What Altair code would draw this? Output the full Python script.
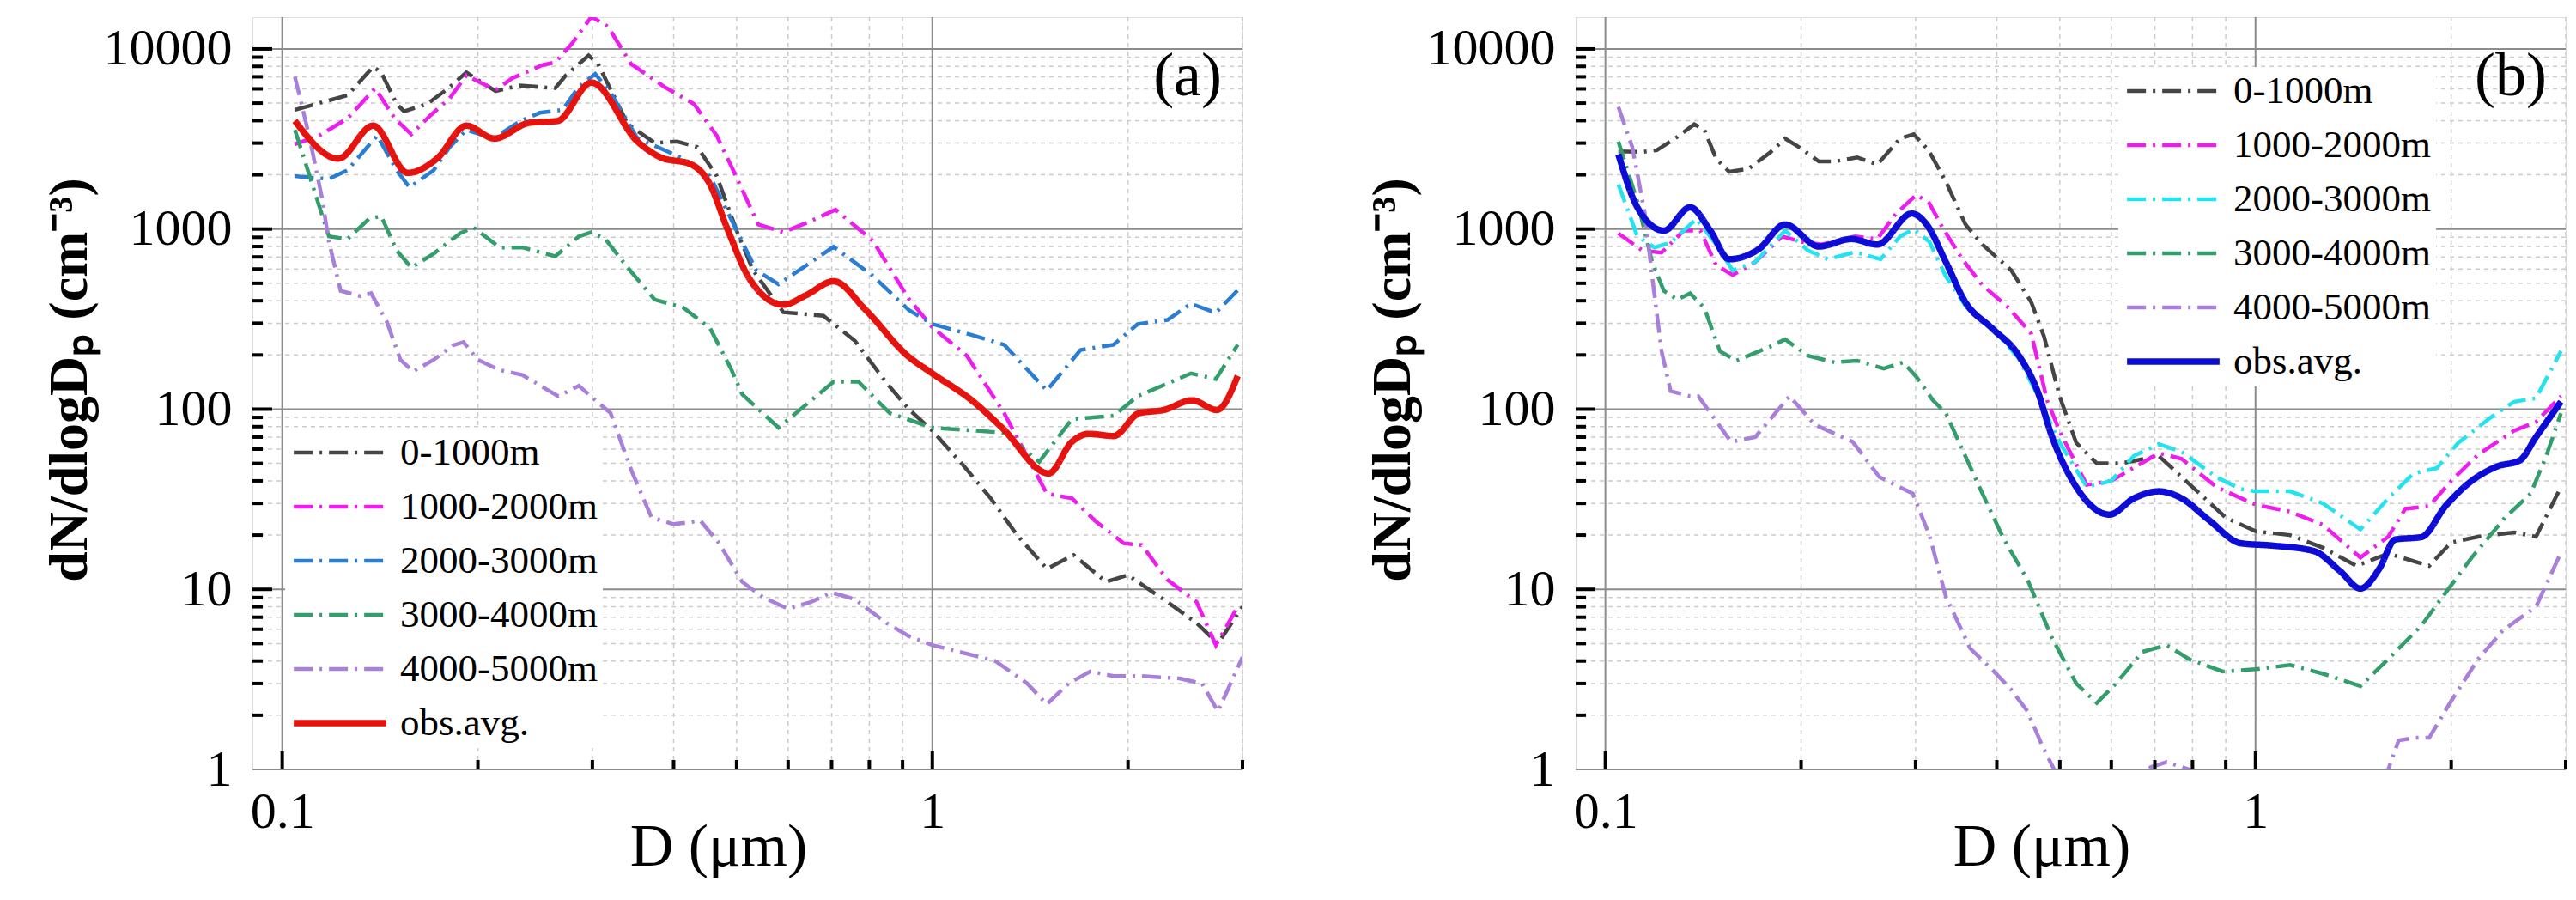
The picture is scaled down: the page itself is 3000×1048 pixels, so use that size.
import altair as alt
import pandas as pd

FONT = "Liberation Serif"
SERIES = ["0-1000m", "1000-2000m", "2000-3000m", "3000-4000m", "4000-5000m", "obs.avg."]

# ---- panel (a) ----
a_black_d = [0.1046, 0.126, 0.138, 0.142, 0.150, 0.154, 0.167, 0.179, 0.192, 0.201, 0.213, 0.232, 0.263, 0.273,
             0.296, 0.306, 0.325, 0.340, 0.374, 0.405, 0.435, 0.466, 0.50, 0.53, 0.59, 0.68, 0.76, 0.85, 0.92, 1.0,
             1.12, 1.23, 1.35, 1.5, 1.65, 1.85, 2.0, 2.3, 2.55, 2.75, 3.0]
a_black_n = [4590, 5520, 7960, 7400, 4940, 4500, 4940, 5940, 7400, 6650, 5830, 6270, 6050, 7130,
             9200, 8260, 5320, 3820, 3010, 3060, 2850, 1970, 980, 590, 345, 330, 240, 140, 100, 76,
             48, 32, 20, 13, 15.5, 11, 12, 8.5, 6.5, 5, 8]

a_mag_d = [0.1046, 0.114, 0.126, 0.139, 0.149, 0.158, 0.169, 0.181, 0.192, 0.2, 0.213, 0.226, 0.251, 0.263,
           0.279, 0.299, 0.317, 0.344, 0.387, 0.43, 0.466, 0.494, 0.54, 0.59, 0.64, 0.71, 0.81, 0.92, 1.0,
           1.13, 1.29, 1.5, 1.64, 1.78, 1.97, 2.1, 2.3, 2.55, 2.73, 2.95]
a_mag_n = [2960, 3300, 4110, 6040, 4110, 3360, 4270, 5320, 7130, 6600, 5920, 6880, 8110, 8420,
           10700, 15100, 13300, 8260, 6160, 4940, 3300, 2120, 1060, 960, 1080, 1280, 860, 410, 285,
           198, 95, 34, 32, 24, 18, 17.6, 11.3, 8.5, 4.9, 8]

a_blue_d = [0.1046, 0.11, 0.118, 0.126, 0.14, 0.15, 0.157, 0.171, 0.181, 0.192, 0.211, 0.232, 0.249, 0.27,
            0.286, 0.303, 0.32, 0.352, 0.378, 0.414, 0.455, 0.49, 0.536, 0.58, 0.705, 0.81, 0.92, 1.0,
            1.16, 1.29, 1.5, 1.69, 1.9, 2.07, 2.3, 2.5, 2.73, 2.95]
a_blue_n = [1970, 1930, 1900, 2120, 3300, 2120, 1700, 2120, 2850, 3550, 3180, 3960, 4420, 4590,
            6160, 7260, 5720, 3180, 2850, 2460, 1970, 1140, 590, 494, 797, 550, 355, 297,
            256, 228, 127, 213, 228, 297, 313, 385, 343, 458]

a_green_d = [0.1046, 0.112, 0.118, 0.126, 0.136, 0.142, 0.15, 0.158, 0.171, 0.188, 0.197, 0.216, 0.234, 0.263,
             0.286, 0.299, 0.314, 0.34, 0.374, 0.414, 0.455, 0.49, 0.51, 0.58, 0.705, 0.77, 0.86, 1.0,
             1.29, 1.46, 1.64, 1.9, 2.07, 2.5, 2.73, 2.95]
a_green_n = [3550, 1640, 910, 880, 1140, 1180, 760, 610, 730, 950, 1020, 790, 790, 706,
             910, 960, 880, 610, 406, 366, 282, 168, 121, 79, 142, 142, 95, 79,
             74, 51, 88, 92, 118, 158, 147, 228]

a_lav_d = [0.1046, 0.11, 0.115, 0.118, 0.123, 0.132, 0.137, 0.145, 0.152, 0.159, 0.171, 0.183, 0.19, 0.2,
           0.216, 0.234, 0.254, 0.266, 0.286, 0.299, 0.32, 0.345, 0.37, 0.40, 0.44, 0.47, 0.51, 0.55, 0.6,
           0.65, 0.7, 0.76, 0.85, 0.92, 1.0, 1.1, 1.25, 1.4, 1.5, 1.62, 1.75, 1.9, 2.1, 2.4, 2.6, 2.75, 3.0]
a_lav_n = [7000, 3300, 1520, 850, 454, 424, 440, 303, 188, 162, 188, 226, 236, 188,
           165, 155, 130, 118, 135, 117, 95, 45, 25, 23, 24, 18, 11, 9, 7.8,
           8.5, 9.6, 8.8, 6.5, 5.5, 4.9, 4.5, 4.0, 3.0, 2.3, 3.0, 3.5, 3.3, 3.3, 3.2, 3.0, 2.1, 4.2]

a_obs_d = [0.1046, 0.122, 0.138, 0.156, 0.173, 0.192, 0.212, 0.240, 0.265, 0.299, 0.352, 0.382, 0.425, 0.455,
           0.483, 0.524, 0.59, 0.64, 0.705, 0.79, 0.916, 1.0, 1.157, 1.28, 1.51, 1.64, 1.74, 1.9, 2.08,
           2.27, 2.51, 2.74, 2.95]
a_obs_n = [3990, 2460, 3750, 2050, 2460, 3750, 3180, 3890, 3980, 6500, 3060, 2500, 2290, 1770,
           1020, 526, 380, 430, 513, 355, 198, 158, 110, 79, 44, 66, 73, 71, 95,
           99, 112, 99, 153]

# ---- panel (b) ----
b_black_d = [0.1047, 0.114, 0.12, 0.128, 0.137, 0.142, 0.148, 0.155, 0.166, 0.179, 0.189, 0.2, 0.213, 0.225,
             0.244, 0.262, 0.284, 0.298, 0.314, 0.334, 0.358, 0.38, 0.421, 0.452, 0.473, 0.50, 0.53, 0.57,
             0.62, 0.71, 0.8, 0.9, 1.0, 1.13, 1.27, 1.43, 1.6, 1.85, 2.0, 2.2, 2.5, 2.7, 2.95]
b_black_n = [2700, 2680, 2740, 3180, 3820, 3550, 2460, 2080, 2160, 2650, 3180, 2800, 2370, 2370,
             2500, 2280, 3180, 3360, 2740, 1830, 1060, 820, 590, 392, 252, 117, 65, 50,
             50, 55, 37, 25, 21, 20, 17, 13.5, 15.8, 13.5, 18.2, 19.6, 20.7, 19.6, 37]

b_mag_d = [0.1047, 0.114, 0.122, 0.132, 0.14, 0.148, 0.157, 0.17, 0.187, 0.2, 0.215, 0.242, 0.262, 0.28,
           0.301, 0.315, 0.33, 0.354, 0.38, 0.417, 0.452, 0.478, 0.5, 0.55, 0.6, 0.71, 0.77, 0.87, 1.0,
           1.13, 1.27, 1.45, 1.6, 1.7, 1.85, 2.0, 2.2, 2.5, 2.7, 2.95]
b_mag_n = [946, 760, 740, 980, 980, 630, 556, 656, 910, 850, 820, 910, 880, 1220,
           1550, 1390, 1020, 680, 489, 366, 262, 112, 75, 38, 40, 57, 53, 37, 29.5,
           27, 22.8, 15, 19.6, 28, 29, 40, 56, 76, 85, 118]

b_cyan_d = [0.1047, 0.112, 0.119, 0.126, 0.138, 0.147, 0.157, 0.17, 0.189, 0.205, 0.22, 0.242, 0.265, 0.284,
            0.298, 0.315, 0.334, 0.358, 0.397, 0.431, 0.462, 0.5, 0.55, 0.6, 0.65, 0.71, 0.77, 0.87, 0.95,
            1.0, 1.13, 1.27, 1.45, 1.6, 1.75, 1.9, 2.05, 2.3, 2.5, 2.7, 2.95]
b_cyan_n = [1770, 910, 790, 840, 1140, 850, 590, 656, 980, 760, 680, 745, 680, 910,
            1000, 850, 546, 375, 270, 195, 120, 65, 37, 40, 55, 64, 58, 42, 36,
            35, 35, 30, 21.5, 32, 44, 47, 65, 90, 110, 115, 210]

b_green_d = [0.1047, 0.112, 0.118, 0.123, 0.129, 0.135, 0.142, 0.15, 0.159, 0.179, 0.189, 0.205, 0.225, 0.244,
             0.268, 0.287, 0.301, 0.319, 0.334, 0.376, 0.41, 0.446, 0.486, 0.53, 0.57, 0.61, 0.67, 0.73,
             0.79, 0.89, 1.0, 1.13, 1.27, 1.45, 1.6, 1.8, 1.97, 2.15, 2.42, 2.65, 2.8, 2.95]
b_green_n = [3060, 1420, 656, 454, 406, 440, 364, 210, 186, 222, 244, 198, 182, 186,
             168, 182, 151, 112, 95, 37, 19, 11.3, 5.4, 3.0, 2.34, 3.0, 4.5, 4.9,
             4.1, 3.5, 3.6, 3.8, 3.4, 2.9, 4.1, 6.3, 9.8, 15, 25, 34, 55, 95]

b_lav_d = [0.1047, 0.11, 0.115, 0.118, 0.122, 0.126, 0.135, 0.139, 0.156, 0.17, 0.192, 0.21, 0.24, 0.264,
           0.297, 0.315, 0.334, 0.364, 0.396, 0.42, 0.446, 0.47, 0.49, 0.55, 0.62, 0.69, 0.73, 0.79, 0.86,
           1.0, 1.2, 1.45, 1.6, 1.66, 1.76, 1.85, 2.0, 2.2, 2.4, 2.7, 2.95]
b_lav_n = [4760, 2850, 1220, 546, 210, 126, 118, 118, 66, 70, 118, 82, 66, 42,
           34, 20, 9.1, 4.7, 3.5, 2.8, 2.1, 1.35, 1.0, 0.6, 0.7, 1.03, 1.1, 1.0, 0.7,
           0.5, 0.4, 0.6, 1.0, 1.45, 1.5, 1.5, 2.4, 4.1, 5.9, 8, 16]

b_obs_d = [0.1047, 0.112, 0.123, 0.135, 0.145, 0.155, 0.172, 0.189, 0.213, 0.239, 0.262, 0.296, 0.312, 0.334,
           0.358, 0.393, 0.431, 0.462, 0.486, 0.53, 0.596, 0.65, 0.71, 0.77, 0.845, 0.95, 1.06, 1.23, 1.35,
           1.45, 1.55, 1.64, 1.8, 1.96, 2.15, 2.35, 2.55, 2.7, 2.95]
b_obs_n = [2600, 1320, 980, 1320, 980, 680, 772, 1060, 800, 880, 820, 1220, 1060, 656,
           392, 282, 202, 126, 71, 37, 26, 32, 35, 32, 24.5, 18, 17.5, 16.3, 12.6,
           10.1, 13, 18.9, 19.5, 29, 40, 48, 52, 70, 110]

colors_a = ["#454545", "#ee1ded", "#2a7dd2", "#339d6b", "#a87fd9", "#e5120e"]
colors_b = ["#454545", "#ee1ded", "#24e2ee", "#339d6b", "#a87fd9", "#0c0cd6"]
dashes = [[22, 8, 3, 8]] * 5 + [[1, 0]]
widths = [4.5, 4.5, 4.5, 4.5, 4.5, 7.5]

y_major = [1, 10, 100, 1000, 10000]
y_minor = [k * 10 ** e for e in range(4) for k in range(2, 10)]
x_major = [0.1, 1]
x_minor = [0.2, 0.3, 0.4, 0.5, 0.6, 0.7, 0.8, 0.9, 2, 3]

W, H = 1153, 876


def long_table(parts):
    rows = []
    for name, d, n in parts:
        rows += [{"series": name, "D": x, "N": y} for x, y in zip(d, n)]
    return pd.DataFrame(rows)


def panel(df, colors, leg_x, leg_y, tag):
    xs = alt.Scale(type="log", domain=[0.09, 3.0])
    ys = alt.Scale(type="log", domain=[1, 15000])
    x_axis = alt.Axis(values=x_major, format="~g", title="D (μm)", ticks=False, domain=False, grid=False,
                      labelFont=FONT, labelFontSize=60, labelColor="black", labelPadding=20, labelFlush=False,
                      titleFont=FONT, titleFontSize=70, titleFontWeight="normal", titleColor="black",
                      titleX=W / 2 - 34, titleY=111, titleBaseline="alphabetic")
    y_axis = alt.Axis(values=y_major, format="d", title="dN/dlogDₚ (cm⁻³)", ticks=False, domain=False,
                      grid=False, labelFont=FONT, labelFontSize=60, labelColor="black", labelPadding=24,
                      titleFont=FONT, titleFontSize=64, titleFontWeight="bold", titleColor="black",
                      titleX=-194, titleY=422, titleBaseline="alphabetic", titleAngle=270)
    X = lambda f: alt.X(f, scale=xs, axis=x_axis)
    Y = lambda f: alt.Y(f, scale=ys, axis=y_axis)

    leg = alt.Legend(title=None, orient="none", legendX=leg_x, legendY=leg_y, fillColor="white",
                     padding=6, symbolType="stroke", symbolSize=11600, clipHeight=44, labelFont=FONT,
                     labelFontSize=45, labelColor="black", labelOffset=12, labelLimit=0, rowPadding=18)
    enc = dict(
        color=alt.Color("series:N", scale=alt.Scale(domain=SERIES, range=colors), legend=leg),
        strokeDash=alt.StrokeDash("series:N", scale=alt.Scale(domain=SERIES, range=dashes), legend=leg),
        strokeWidth=alt.StrokeWidth("series:N", scale=alt.Scale(type="ordinal", domain=SERIES, range=widths),
                                    legend=leg),
    )

    grid_y_minor = alt.Chart(pd.DataFrame({"v": y_minor})).mark_rule(
        color="#cccccc", strokeDash=[5, 5], strokeWidth=1.5).encode(y=Y("v:Q"))
    grid_x_minor = alt.Chart(pd.DataFrame({"v": x_minor})).mark_rule(
        color="#cccccc", strokeDash=[5, 5], strokeWidth=1.5).encode(x=X("v:Q"))
    grid_y = alt.Chart(pd.DataFrame({"v": y_major})).mark_rule(
        color="#8c8c8c", strokeWidth=2).encode(y=Y("v:Q"))
    grid_x = alt.Chart(pd.DataFrame({"v": x_major})).mark_rule(
        color="#8c8c8c", strokeWidth=2).encode(x=X("v:Q"))

    dashed = alt.Chart(df[df.series != "obs.avg."]).mark_line(clip=True).encode(
        x=X("D:Q"), y=Y("N:Q"), detail="series:N", **enc)
    obs = alt.Chart(df[df.series == "obs.avg."]).mark_line(clip=True, interpolate="monotone").encode(
        x=X("D:Q"), y=Y("N:Q"), **enc)

    tick_y = alt.Chart(pd.DataFrame({"v": y_minor})).mark_rule(color="black", strokeWidth=4).encode(
        y=Y("v:Q"), x=alt.value(0), x2=alt.value(12))
    tick_y_major = alt.Chart(pd.DataFrame({"v": y_major[1:]})).mark_rule(color="black", strokeWidth=4).encode(
        y=Y("v:Q"), x=alt.value(0), x2=alt.value(23))
    tick_x = alt.Chart(pd.DataFrame({"v": x_minor})).mark_rule(color="black", strokeWidth=4).encode(
        x=X("v:Q"), y=alt.value(H), y2=alt.value(H - 11))
    tick_x_major = alt.Chart(pd.DataFrame({"v": x_major})).mark_rule(color="black", strokeWidth=4).encode(
        x=X("v:Q"), y=alt.value(H), y2=alt.value(H - 21))

    label = alt.Chart(pd.DataFrame({"D": [2.47], "N": [7000], "t": [tag]})).mark_text(
        font=FONT, fontSize=72, color="black", align="center", baseline="middle").encode(
        x=X("D:Q"), y=Y("N:Q"), text="t:N")

    return alt.layer(grid_y_minor, grid_x_minor, grid_y, grid_x, dashed, obs,
                     tick_y, tick_y_major, tick_x, tick_x_major, label).properties(width=W, height=H)


df_a = long_table([
    ("0-1000m", a_black_d, a_black_n), ("1000-2000m", a_mag_d, a_mag_n), ("2000-3000m", a_blue_d, a_blue_n),
    ("3000-4000m", a_green_d, a_green_n), ("4000-5000m", a_lav_d, a_lav_n), ("obs.avg.", a_obs_d, a_obs_n)])
df_b = long_table([
    ("0-1000m", b_black_d, b_black_n), ("1000-2000m", b_mag_d, b_mag_n), ("2000-3000m", b_cyan_d, b_cyan_n),
    ("3000-4000m", b_green_d, b_green_n), ("4000-5000m", b_lav_d, b_lav_n), ("obs.avg.", b_obs_d, b_obs_n)])

pa = panel(df_a, colors_a, 38, 479, "(a)")
pb = panel(df_b, colors_b, 632, 58, "(b)")

chart = alt.hconcat(pa, pb, spacing=139).resolve_scale(
    color="independent", strokeDash="independent", strokeWidth="independent", x="independent", y="independent"
).resolve_legend(color="independent", strokeDash="independent", strokeWidth="independent").properties(
    padding={"left": 40, "top": 10, "right": 0, "bottom": 0}
).configure_view(stroke="black", strokeWidth=4).configure(background="white")

chart.save("out.html", embed_options={"renderer": "svg", "actions": False})
